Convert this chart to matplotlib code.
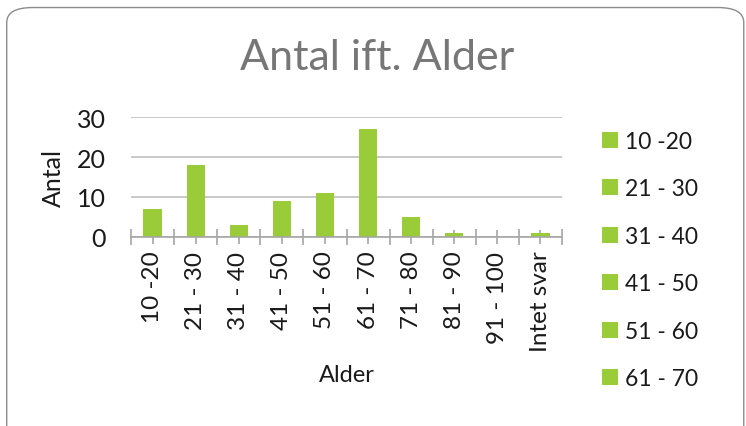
import matplotlib.pyplot as plt
from matplotlib.patches import FancyBboxPatch, Patch

categories = ['10 -20', '21 - 30', '31 - 40', '41 - 50', '51 - 60',
              '61 - 70', '71 - 80', '81 - 90', '91 - 100', 'Intet svar']
counts = [7, 18, 3, 9, 11, 27, 5, 1, 0, 1]
y_ticks = [0, 10, 20, 30]

bar_color = '#9ACB38'
text_color = '#1a1a1a'
line_gray = '#a6a6a6'

plt.rcParams['font.family'] = ['Lato', 'DejaVu Sans']

fig = plt.figure(figsize=(7.46, 4.27), dpi=100, facecolor='white')

# rounded chart frame, bottom runs off the image like in the original
frame = FancyBboxPatch((0.009, -0.1), 0.988, 1.08, transform=fig.transFigure,
                       boxstyle='round,pad=0,rounding_size=0.035',
                       facecolor='none', edgecolor='#8c8c8c', linewidth=1.0)
fig.patches.append(frame)

ax = fig.add_axes([0.1756, 0.4433, 0.5778, 0.2797])
ax.patch.set_alpha(0)
x = list(range(len(categories)))
ax.bar(x, counts, width=0.42, color=bar_color, zorder=3)

ax.set_xlim(-0.5, len(categories) - 0.5)
ax.set_ylim(0, 30)
ax.set_yticks(y_ticks)
ax.set_yticklabels([str(v) for v in y_ticks], fontsize=18, color=text_color)
ax.tick_params(axis='y', length=0, pad=18)
ax.yaxis.grid(True, color='#bfbfbf', linewidth=1.2, zorder=0)

ax.set_xticks(x)
ax.set_xticklabels(categories, rotation=90, fontsize=17.5, color=text_color)
ax.set_xticks([i - 0.5 for i in range(len(categories) + 1)], minor=True)
ax.tick_params(axis='x', which='major', direction='inout', length=10,
               color=line_gray, width=1.2, pad=5)
ax.tick_params(axis='x', which='minor', direction='inout', length=12,
               color=line_gray, width=1.2)

for side in ['top', 'right', 'left']:
    ax.spines[side].set_visible(False)
ax.spines['bottom'].set_color(line_gray)
ax.spines['bottom'].set_linewidth(1.2)
ax.spines['bottom'].set_zorder(4)

ax.set_ylabel('Antal', fontsize=18, color=text_color, labelpad=9)
ax.set_xlabel('Alder', fontsize=17, color=text_color, labelpad=9)

fig.text(0.505, 0.865, 'Antal ift. Alder', ha='center', va='center',
         fontsize=31, color='#777777')

handles = [Patch(facecolor=bar_color, label=c) for c in categories[:6]]
fig.legend(handles=handles, loc='upper left', bbox_to_anchor=(0.795, 0.712),
           frameon=False, fontsize=16.5, handlelength=0.7, handleheight=0.7,
           handletextpad=0.3, labelspacing=1.15, labelcolor=text_color,
           borderaxespad=0)

fig.savefig('out.png', dpi=100)
